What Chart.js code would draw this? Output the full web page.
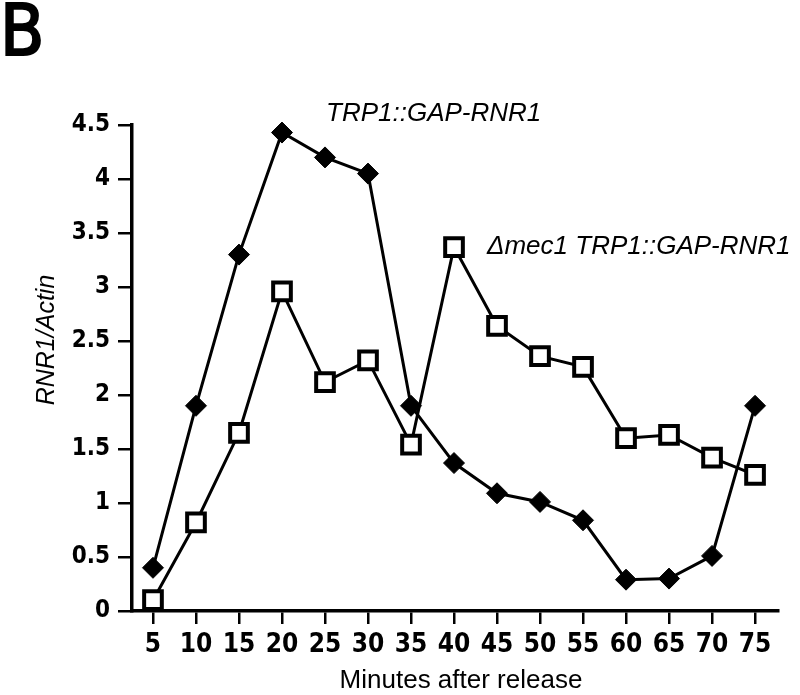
<!DOCTYPE html>
<html>
<head>
<meta charset="utf-8">
<script src="https://cdn.jsdelivr.net/npm/chart.js@4"></script>
<style>
  html, body { margin: 0; padding: 0; background: #fff; }
  #wrap { width: 800px; height: 695px; }
</style>
</head>
<body>
<div id="wrap"><canvas id="myChart"></canvas></div>
<script>
  const minutes = [5, 10, 15, 20, 25, 30, 35, 40, 45, 50, 55, 60, 65, 70, 75];
  const trp1 = [0.40, 1.90, 3.30, 4.43, 4.20, 4.05, 1.90, 1.37, 1.09, 1.01, 0.84, 0.29, 0.30, 0.51, 1.90];
  const mec1 = [0.10, 0.82, 1.65, 2.96, 2.12, 2.32, 1.54, 3.37, 2.64, 2.36, 2.26, 1.60, 1.63, 1.42, 1.26];
  const yTicks = [0, 0.5, 1, 1.5, 2, 2.5, 3, 3.5, 4, 4.5];
  const yTickLabels = ['0', '0.5', '1', '1.5', '2', '2.5', '3', '3.5', '4', '4.5'];

  const toXY = (vals) => vals.map((v, i) => ({ x: minutes[i], y: v }));

  const textPlugin = {
    id: 'texts',
    afterDraw(chart) {
      const ctx = chart.ctx;
      ctx.save();
      ctx.fillStyle = '#000';
      ctx.strokeStyle = '#000';

      // panel letter, regular weight thickened a little
      ctx.font = '72px "DejaVu Sans Condensed", "Liberation Sans"';
      ctx.textAlign = 'left';
      ctx.textBaseline = 'alphabetic';
      ctx.lineWidth = 2;
      ctx.fillText('B', 0, 55);
      ctx.strokeText('B', 0, 55);

      ctx.textBaseline = 'middle';
      ctx.font = 'italic 26px "Liberation Sans"';
      ctx.fillText('TRP1::GAP-RNR1', 326, 114);
      ctx.fillText('\u0394mec1 TRP1::GAP-RNR1', 487, 247);

      ctx.font = '26px "Liberation Sans"';
      ctx.textAlign = 'center';
      ctx.fillText('Minutes after release', 461, 681);

      ctx.translate(47, 340);
      ctx.rotate(-Math.PI / 2);
      ctx.font = 'italic 25px "Liberation Sans"';
      ctx.fillText('RNR1/Actin', 0, 0);
      ctx.restore();
    }
  };

  const data = {
    datasets: [{
      label: '\u0394mec1 TRP1::GAP-RNR1',
      data: toXY(mec1),
      borderColor: '#000',
      borderWidth: 3,
      pointStyle: 'rect',
      pointRadius: 12.5,
      pointBorderWidth: 4,
      pointBackgroundColor: '#fff',
      pointBorderColor: '#000',
      clip: false
    }, {
      label: 'TRP1::GAP-RNR1',
      data: toXY(trp1),
      borderColor: '#000',
      borderWidth: 3,
      pointStyle: 'rectRot',
      pointRadius: 10.5,
      pointBorderWidth: 1,
      pointBackgroundColor: '#000',
      pointBorderColor: '#000',
      clip: false
    }]
  };

  const config = {
    type: 'line',
    data: data,
    plugins: [textPlugin],
    options: {
      responsive: true,
      maintainAspectRatio: false,
      animation: false,
      layout: { padding: { left: 0, right: 22, top: 125, bottom: 0 } },
      plugins: { legend: { display: false }, tooltip: { enabled: false } },
      scales: {
        x: {
          type: 'linear',
          min: 2.56,
          max: 77.67,
          afterBuildTicks: (axis) => { axis.ticks = minutes.map(v => ({ value: v })); },
          afterFit: (axis) => { axis.height = 84; },
          grid: { drawOnChartArea: false, drawTicks: true, tickLength: 13, color: '#000', lineWidth: 2.5 },
          border: { display: true, color: '#000', width: 3.5 },
          ticks: {
            color: '#000',
            padding: 6,
            maxRotation: 0,
            autoSkip: false,
            font: { family: '"DejaVu Sans Condensed", "Liberation Sans"', size: 26, weight: 'bold' }
          }
        },
        y: {
          min: 0,
          max: 4.5,
          afterBuildTicks: (axis) => { axis.ticks = yTicks.map(v => ({ value: v })); },
          afterFit: (axis) => { axis.width = 132; },
          grid: { drawOnChartArea: false, drawTicks: true, tickLength: 14, color: '#000', lineWidth: 2.5 },
          border: { display: true, color: '#000', width: 3.5 },
          ticks: {
            color: '#000',
            padding: 8,
            callback: (v, i) => yTickLabels[i],
            font: { family: '"DejaVu Sans Condensed", "Liberation Sans"', size: 24, weight: 'bold' }
          }
        }
      }
    }
  };

  const myChart = new Chart(document.getElementById('myChart'), config);
</script>
</body>
</html>
